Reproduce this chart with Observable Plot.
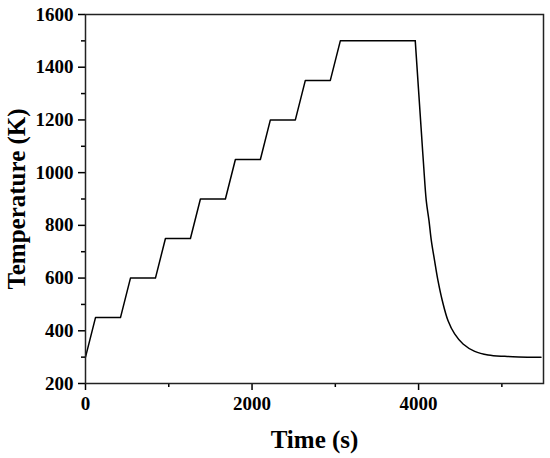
<!DOCTYPE html>
<html>
<head>
<meta charset="utf-8">
<script src="https://cdn.jsdelivr.net/npm/d3@7"></script>
<script src="https://cdn.jsdelivr.net/npm/@observablehq/plot@0.6"></script>
<style>
  html, body { margin: 0; padding: 0; background: white; }
</style>
</head>
<body>
<div id="chart"></div>
<script>
// Time (s)
const times = [
  0, 120, 420, 540, 840, 960, 1260, 1380, 1680, 1800, 2100, 2220, 2520, 2640, 2940, 3060, 3960,
  4030, 4060, 4092, 4125, 4153, 4192, 4233, 4285, 4354, 4433, 4534, 4674, 4835, 5035, 5200, 5470
];
// Temperature (K)
const temps = [
  300, 450, 450, 600, 600, 750, 750, 900, 900, 1050, 1050, 1200, 1200, 1350, 1350, 1500, 1500,
  1170, 1030, 894, 818, 742, 666, 590, 514, 438, 388, 350, 322, 308, 303, 301, 300
];
const coolingStart = 3960; // end of the 1500 K hold
const xMajor = [0, 2000, 4000];
const xMinor = [1000, 3000, 5000];
const yMajor = [200, 400, 600, 800, 1000, 1200, 1400, 1600];
const yMinor = [300, 500, 700, 900, 1100, 1300, 1500];
const xTitle = "Time (s)";
const yTitle = "Temperature (K)";

const data = times.map((t, i) => ({t, T: temps[i]}));
const heating = data.filter(d => d.t <= coolingStart);
const cooling = data.filter(d => d.t >= coolingStart);

const chart = Plot.plot({
  width: 550,
  height: 458,
  marginLeft: 85,
  marginTop: 14,
  marginRight: 7,
  marginBottom: 75,
  x: {domain: [0, 5500], label: null},
  y: {domain: [200, 1600], label: null},
  style: {
    fontFamily: "'Liberation Serif', 'Times New Roman', serif",
    fontWeight: "bold",
    fontSize: "19px",
    color: "black",
    background: "white"
  },
  marks: [
    Plot.axisX({ticks: xMajor, tickSize: 7, tickPadding: 6, label: null, strokeWidth: 1.5, tickFormat: d => String(d)}),
    Plot.axisX({ticks: xMinor, tickSize: 4, label: null, strokeWidth: 1.5, tickFormat: () => ""}),
    Plot.axisY({ticks: yMajor, tickSize: 7, tickPadding: 5, label: null, strokeWidth: 1.5, tickFormat: d => String(d)}),
    Plot.axisY({ticks: yMinor, tickSize: 4, label: null, strokeWidth: 1.5, tickFormat: () => ""}),
    Plot.line(heating, {x: "t", y: "T", stroke: "black", strokeWidth: 1.5}),
    Plot.line(cooling, {x: "t", y: "T", stroke: "black", strokeWidth: 1.5, curve: "catmull-rom"}),
    Plot.frame({stroke: "#222", strokeWidth: 1.5}),
    Plot.text([xTitle], {frameAnchor: "bottom", dy: 64, lineAnchor: "bottom", textAnchor: "middle", fontSize: 25, fill: "black"}),
    Plot.text([yTitle], {frameAnchor: "left", rotate: -90, dx: -61, lineAnchor: "bottom", textAnchor: "middle", fontSize: 25, fill: "black"})
  ]
});
document.getElementById("chart").appendChild(chart);
</script>
</body>
</html>
